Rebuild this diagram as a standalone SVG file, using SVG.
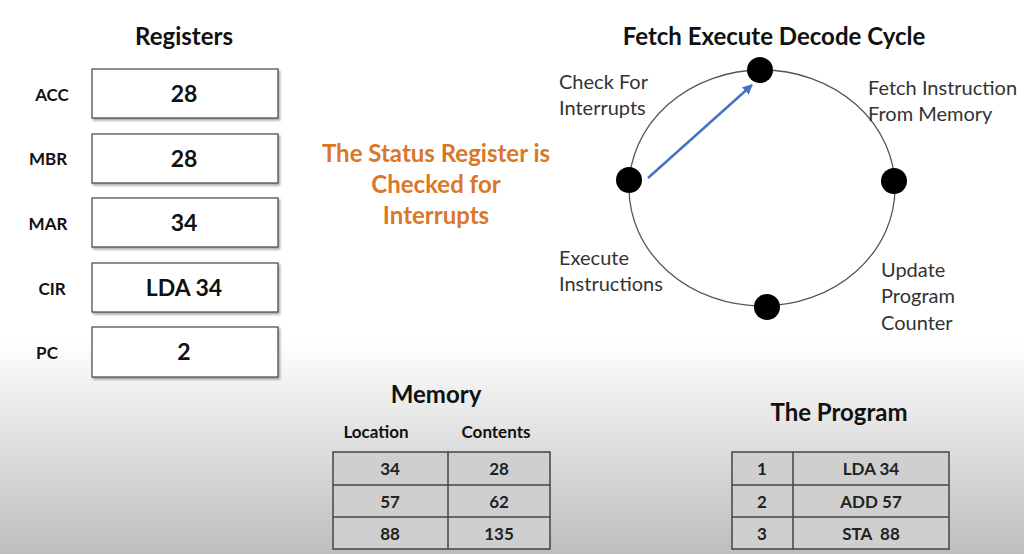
<svg xmlns="http://www.w3.org/2000/svg" width="1024" height="554" viewBox="0 0 1024 554">
<defs>
<linearGradient id="bg" x1="0" y1="340" x2="0" y2="554" gradientUnits="userSpaceOnUse">
<stop offset="0" stop-color="#ffffff"/>
<stop offset="1" stop-color="#bdbdbd"/>
</linearGradient>
<filter id="sh" x="-10%" y="-20%" width="120%" height="150%">
<feDropShadow dx="1.5" dy="2" stdDeviation="1.2" flood-color="#000" flood-opacity="0.35"/>
</filter>
<marker id="ah" viewBox="0 0 10 10" refX="9" refY="5" markerWidth="4" markerHeight="4" orient="auto">
<path d="M0,0 L10,5 L0,10 z" fill="#4472c4"/>
</marker>
</defs>
<style>
text{font-family:Lato,"Open Sans","Liberation Sans",sans-serif;fill:#111;white-space:pre}
.h{font-size:24px;font-weight:bold;text-anchor:middle}
.lab{font-size:17px;font-weight:bold;text-anchor:middle}
.val{font-size:23px;font-weight:bold;text-anchor:middle}
.reg{fill:#fff;stroke:#444;stroke-width:1.2}
.orange{font-size:24px;font-weight:bold;text-anchor:middle;fill:#d9772a}
.cl{font-size:20px;fill:#333}
.cell{fill:#cfcfcf;stroke:#444;stroke-width:1.5}
.tv{font-size:17px;font-weight:bold;text-anchor:middle;fill:#222}
.dot{fill:#000}
</style>
<rect width="1024" height="554" fill="url(#bg)"/>

<g id="registers">
<text class="h" x="184" y="45">Registers</text>
<g id="acc"><text class="lab" x="52" y="101">ACC</text><rect class="reg" x="92" y="69" width="186" height="49" filter="url(#sh)"/><text class="val" x="184" y="102">28</text></g>
<g id="mbr"><text class="lab" x="48" y="165">MBR</text><rect class="reg" x="92" y="134" width="186" height="49" filter="url(#sh)"/><text class="val" x="184" y="167">28</text></g>
<g id="mar"><text class="lab" x="48" y="230">MAR</text><rect class="reg" x="92" y="198" width="186" height="49" filter="url(#sh)"/><text class="val" x="184" y="231">34</text></g>
<g id="cir"><text class="lab" x="52" y="295">CIR</text><rect class="reg" x="92" y="263" width="186" height="49" filter="url(#sh)"/><text class="val" x="184" y="296">LDA 34</text></g>
<g id="pc"><text class="lab" x="47" y="359">PC</text><rect class="reg" x="92" y="327" width="186" height="50" filter="url(#sh)"/><text class="val" x="184" y="360">2</text></g>
</g>

<g id="status">
<text class="orange" x="436" y="162">The Status Register is</text>
<text class="orange" x="436" y="193">Checked for</text>
<text class="orange" x="436" y="224">Interrupts</text>
</g>

<g id="cycle">
<text class="h" x="774" y="45">Fetch Execute Decode Cycle</text>
<ellipse cx="762" cy="188" rx="133" ry="118" fill="none" stroke="#555" stroke-width="1.3"/>
<g id="n-fetch"><circle class="dot" cx="760" cy="70" r="13"/></g>
<g id="n-update"><circle class="dot" cx="894" cy="181" r="13"/></g>
<g id="n-execute"><circle class="dot" cx="767" cy="307" r="13"/></g>
<g id="n-check"><circle class="dot" cx="629" cy="180" r="13"/></g>
<g id="labels">
<text class="cl" x="559" y="89">Check For</text>
<text class="cl" x="559" y="115">Interrupts</text>
<text class="cl" x="868" y="95">Fetch Instruction</text>
<text class="cl" x="868" y="121">From Memory</text>
<text class="cl" x="559" y="265">Execute</text>
<text class="cl" x="559" y="291">Instructions</text>
<text class="cl" x="881" y="277">Update</text>
<text class="cl" x="881" y="303">Program</text>
<text class="cl" x="881" y="330">Counter</text>
</g>
</g>

<g id="connectors">
<line x1="648" y1="178" x2="752" y2="85" stroke="#4472c4" stroke-width="2.5" marker-end="url(#ah)"/>
</g>

<g id="memory">
<text class="h" x="436" y="403">Memory</text>
<text class="lab" x="376" y="438">Location</text>
<text class="lab" x="496" y="438">Contents</text>
<rect class="cell" x="333" y="452" width="217" height="97"/>
<line x1="333" y1="485" x2="550" y2="485" stroke="#444" stroke-width="1.5"/>
<line x1="333" y1="517" x2="550" y2="517" stroke="#444" stroke-width="1.5"/>
<line x1="448" y1="452" x2="448" y2="549" stroke="#444" stroke-width="1.5"/>
<text class="tv" x="390" y="475">34</text><text class="tv" x="499" y="475">28</text>
<text class="tv" x="390" y="508">57</text><text class="tv" x="499" y="508">62</text>
<text class="tv" x="390" y="540">88</text><text class="tv" x="499" y="540">135</text>
</g>

<g id="program">
<text class="h" x="839" y="421">The Program</text>
<rect class="cell" x="732" y="452" width="217" height="97"/>
<line x1="732" y1="485" x2="949" y2="485" stroke="#444" stroke-width="1.5"/>
<line x1="732" y1="517" x2="949" y2="517" stroke="#444" stroke-width="1.5"/>
<line x1="793" y1="452" x2="793" y2="549" stroke="#444" stroke-width="1.5"/>
<text class="tv" x="762" y="475">1</text><text class="tv" x="871" y="475">LDA 34</text>
<text class="tv" x="762" y="508">2</text><text class="tv" x="871" y="508">ADD 57</text>
<text class="tv" x="762" y="540">3</text><text class="tv" x="871" y="540">STA  88</text>
</g>
</svg>
